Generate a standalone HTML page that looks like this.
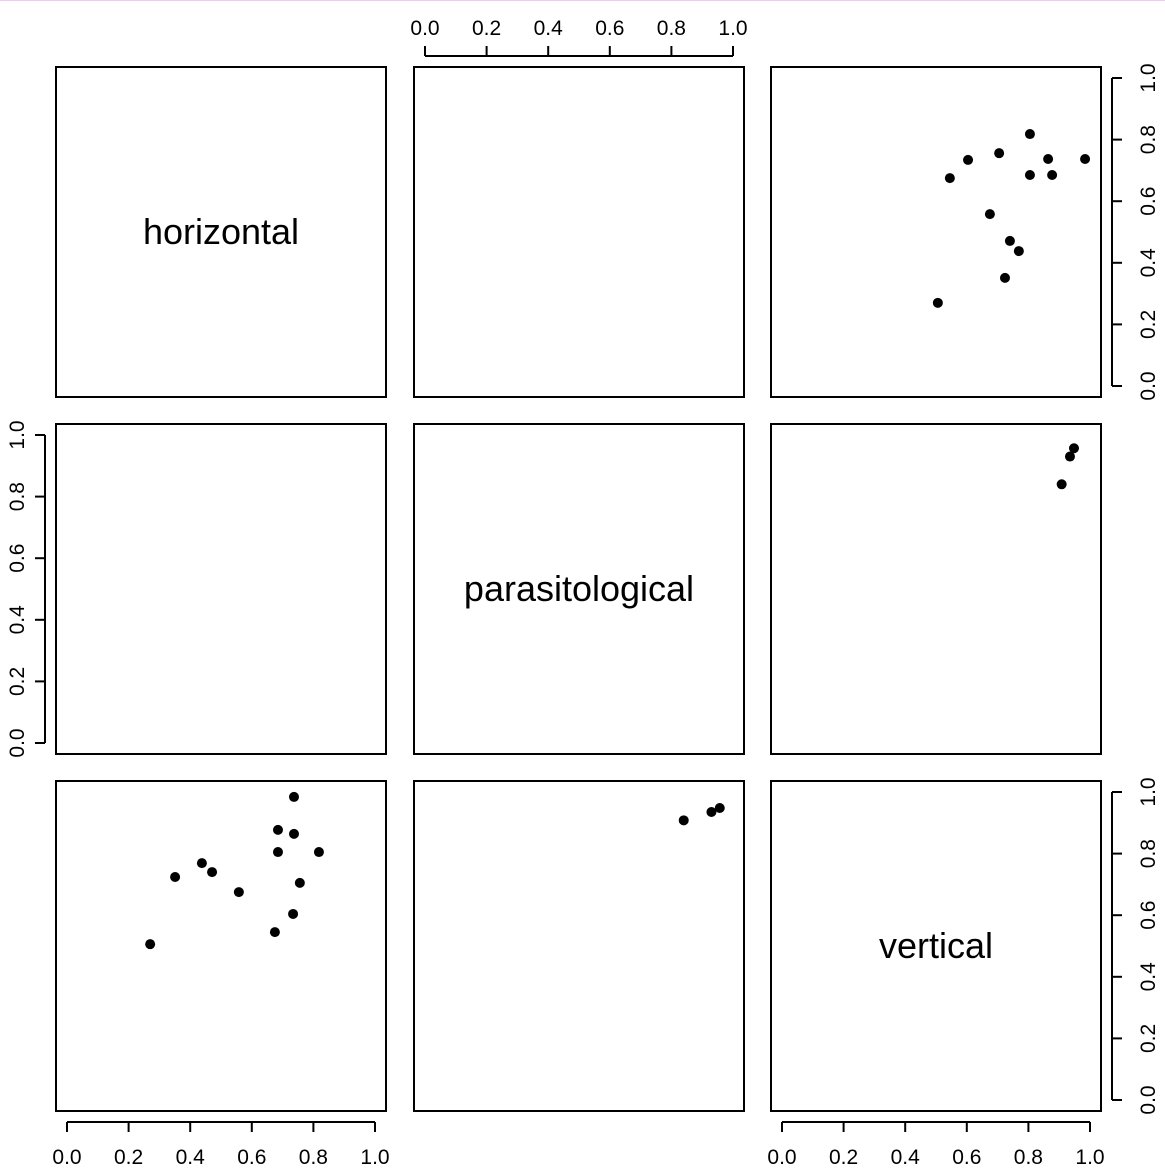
<!DOCTYPE html>
<html><head><meta charset="utf-8"><style>
body{margin:0;background:#fff}
svg text{font-family:"Liberation Sans",Arial,sans-serif;fill:#000}
</style></head><body>
<svg id="c" width="1165" height="1167" xmlns="http://www.w3.org/2000/svg">
<line x1="0" y1="0.5" x2="1165" y2="0.5" stroke="#f0c8f0" stroke-width="1"/>
</svg>
<script>
const varNames = ["horizontal","parasitological","vertical"];
const horizontal = [0.27,0.675,0.734,0.756,0.818,0.737,0.737,0.685,0.685,0.558,0.471,0.438,0.351,null,null,null];
const vertical   = [0.506,0.545,0.604,0.705,0.805,0.864,0.984,0.805,0.877,0.675,0.740,0.769,0.724,0.908,0.935,0.948];
const parasitological = [null,null,null,null,null,null,null,null,null,null,null,null,null,0.84,0.93,0.957];
const tickLabels = ["0.0","0.2","0.4","0.6","0.8","1.0"];
const tickValues = [0,0.2,0.4,0.6,0.8,1.0];

const svg = document.getElementById('c');
const NS = "http://www.w3.org/2000/svg";
const colX = [56,414,771], rowY = [67,424,781], P = 330;
const data = [horizontal, parasitological, vertical];
function mk(tag, attrs){const e=document.createElementNS(NS,tag);for(const k in attrs)e.setAttribute(k,attrs[k]);svg.appendChild(e);return e;}
function sx(c,v){return colX[c]+11+v*308;}
function sy(r,v){return rowY[r]+P-11-v*308;}

for(let r=0;r<3;r++)for(let c=0;c<3;c++){
  const b=mk('rect',{x:colX[c],y:rowY[r],width:P,height:P,fill:'none',stroke:'#000','stroke-width':2});
  
  
  if(r===c){
    const t=mk('text',{x:colX[c]+P/2,y:rowY[r]+P/2+12,'font-size':36,'text-anchor':'middle'});
    t.textContent=varNames[r];
    
    
  } else {
    const xs=data[c], ys=data[r];
    for(let i=0;i<xs.length;i++){
      if(xs[i]==null||ys[i]==null)continue;
      const p=mk('circle',{cx:sx(c,xs[i]),cy:sy(r,ys[i]),r:5,fill:'#000'});
      
      
    }
  }
}
function axis(kind,idx){
  const g=document.createElementNS(NS,'g');svg.appendChild(g);
  
  
  const a=(t,at)=>{const e=document.createElementNS(NS,t);for(const k in at)e.setAttribute(k,at[k]);g.appendChild(e);return e;};
  const s={stroke:'#000','stroke-width':2};
  if(kind==='bottom'||kind==='top'){
    const y0 = kind==='bottom'? rowY[2]+P+11 : rowY[0]-11;
    const d = kind==='bottom'?1:-1;
    a('line',Object.assign({x1:sx(idx,0),x2:sx(idx,1),y1:y0,y2:y0},s));
    tickValues.forEach((v,i)=>{
      const x=sx(idx,v);
      a('line',Object.assign({x1:x,x2:x,y1:y0,y2:y0+d*10},s));
      const t=a('text',{x:x,y:kind==='bottom'?y0+42:y0-21,'font-size':21,'text-anchor':'middle'});
      t.textContent=tickLabels[i];
    });
  } else {
    const x0 = kind==='right'? colX[2]+P+11 : colX[0]-11;
    const d = kind==='right'?1:-1;
    a('line',Object.assign({x1:x0,x2:x0,y1:sy(idx,0),y2:sy(idx,1)},s));
    tickValues.forEach((v,i)=>{
      const y=sy(idx,v);
      a('line',Object.assign({x1:x0,x2:x0+d*10,y1:y,y2:y},s));
      const tx = kind==='right'? x0+43 : x0-21;
      const t=a('text',{x:tx,y:y,'font-size':21,'text-anchor':'middle',transform:`rotate(-90 ${tx} ${y})`});
      t.textContent=tickLabels[i];
    });
  }
}
axis('bottom',0); axis('bottom',2); axis('top',1);
axis('right',0); axis('right',2); axis('left',1);
</script>
</body></html>
